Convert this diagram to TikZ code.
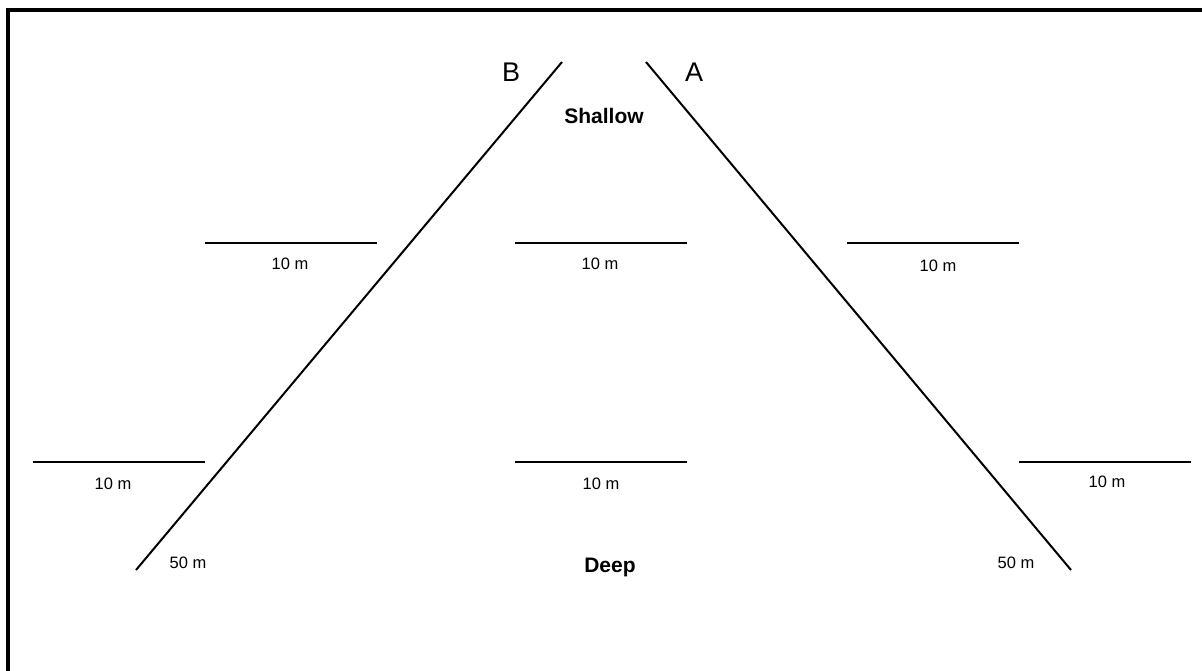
\documentclass[tikz,border=0pt]{standalone}
\usepackage{fontspec}
\setmainfont{Liberation Sans}
\begin{document}
\begin{tikzpicture}[x=1pt,y=-1pt,
  slope/.style={line width=2pt},
  level/.style={line width=2.4pt},
  frame/.style={line width=4pt},
  dist/.style={font=\fontsize{16.5}{18}\selectfont, anchor=base, inner sep=0pt},
  zone/.style={font=\fontsize{21}{24}\selectfont\bfseries, anchor=base, inner sep=0pt},
  side/.style={font=\fontsize{27}{30}\selectfont, anchor=base, inner sep=0pt}]
\useasboundingbox (0,0) rectangle (1202,670);
\begin{scope}
\clip (0,0) rectangle (1202,670);
\draw[frame] (8,700) -- (8,10) -- (1240,10);
\end{scope}
% slopes
\coordinate (Bbot) at (136,570);
\coordinate (Btop) at (562,62);
\coordinate (Atop) at (646,62);
\coordinate (Abot) at (1071,570);
\draw[slope] (Bbot) -- (Btop);
\draw[slope] (Atop) -- (Abot);
% level lines upper
\coordinate (u1a) at (205,243); \coordinate (u1b) at (377,243);
\coordinate (u2a) at (515,243); \coordinate (u2b) at (687,243);
\coordinate (u3a) at (847,243); \coordinate (u3b) at (1019,243);
\draw[level] (u1a) -- (u1b);
\draw[level] (u2a) -- (u2b);
\draw[level] (u3a) -- (u3b);
% level lines lower
\coordinate (l1a) at (33,462); \coordinate (l1b) at (205,462);
\coordinate (l2a) at (515,462); \coordinate (l2b) at (687,462);
\coordinate (l3a) at (1019,462); \coordinate (l3b) at (1191,462);
\draw[level] (l1a) -- (l1b);
\draw[level] (l2a) -- (l2b);
\draw[level] (l3a) -- (l3b);
% labels
\node[dist] (t1) at (290,269) {10 m};
\node[dist] (t2) at (600,269) {10 m};
\node[dist] (t3) at (938,271) {10 m};
\node[dist] (t4) at (113,489) {10 m};
\node[dist] (t5) at (601,489) {10 m};
\node[dist] (t6) at (1107,487) {10 m};
\node[dist] (d1) at (188,568) {50 m};
\node[dist] (d2) at (1016,568) {50 m};
\node[zone] (sh) at (604,123) {Shallow};
\node[zone] (dp) at (610,572) {Deep};
\node[side] (B) at (511,81) {B};
\node[side] (A) at (694,81) {A};
\end{tikzpicture}
\end{document}
